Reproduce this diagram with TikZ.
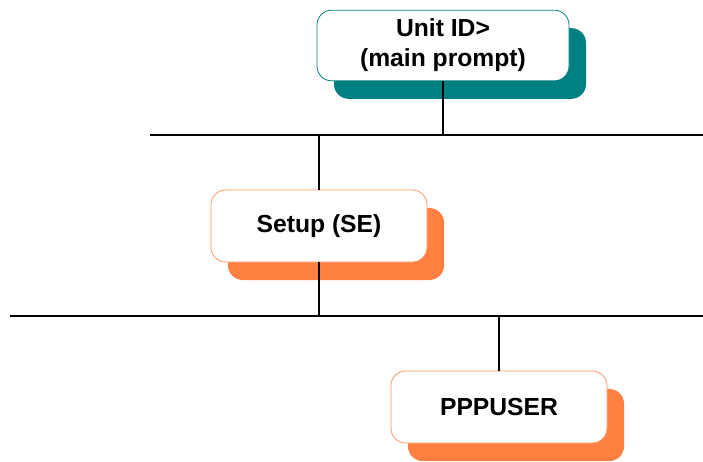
\documentclass[tikz,border=0pt]{standalone}
\usepackage{fontspec}
\setmainfont{Liberation Sans}
\usetikzlibrary{shadows}
\definecolor{menuteal}{RGB}{0,128,128}
\definecolor{menuorange}{RGB}{255,128,64}
\definecolor{menuedge}{RGB}{255,150,100}

\tikzset{
  menubox/.style={draw, line width=0.6pt, fill=white, rounded corners=11pt,
    align=center, font=\fontsize{18.5}{22.5}\selectfont\bfseries,
    minimum width=162pt, minimum height=54pt, inner sep=0pt},
  tealbox/.style={menubox, draw=menuteal, minimum width=189pt, minimum height=53pt,
    drop shadow={shadow xshift=12.75pt, shadow yshift=-13.5pt, fill=menuteal, opacity=1}},
  orangebox/.style={menubox, draw=menuedge,
    drop shadow={shadow xshift=12.75pt, shadow yshift=-13.5pt, fill=menuorange, opacity=1}},
  busline/.style={line width=0.8pt}
}

\begin{document}
\begin{tikzpicture}[x=0.75pt, y=-0.75pt]
    \useasboundingbox (0,0) rectangle (703,461);

    % Menu levels
    \node[tealbox] (unit) at (443,45.5) {Unit ID>\\(main prompt)};
    \node[orangebox] (setup) at (319,226) {Setup (SE)};
    \node[orangebox] (pppuser) at (499,407) {PPPUSER};

    % Horizontal buses between the levels
    \coordinate (busA-l) at (150,135);
    \coordinate (busA-r) at (703,135);
    \coordinate (busB-l) at (10,316);
    \coordinate (busB-r) at (703,316);
    \draw[busline] (busA-l) -- (busA-r);
    \draw[busline] (busB-l) -- (busB-r);

    % Drops onto the buses
    \draw[busline] (unit.south) -- (unit.south |- busA-l);
    \draw[busline] (setup.north) -- (setup.north |- busA-l);
    \draw[busline] (setup.south) -- (setup.south |- busB-l);
    \draw[busline] (pppuser.north) -- (pppuser.north |- busB-l);
\end{tikzpicture}
\end{document}
